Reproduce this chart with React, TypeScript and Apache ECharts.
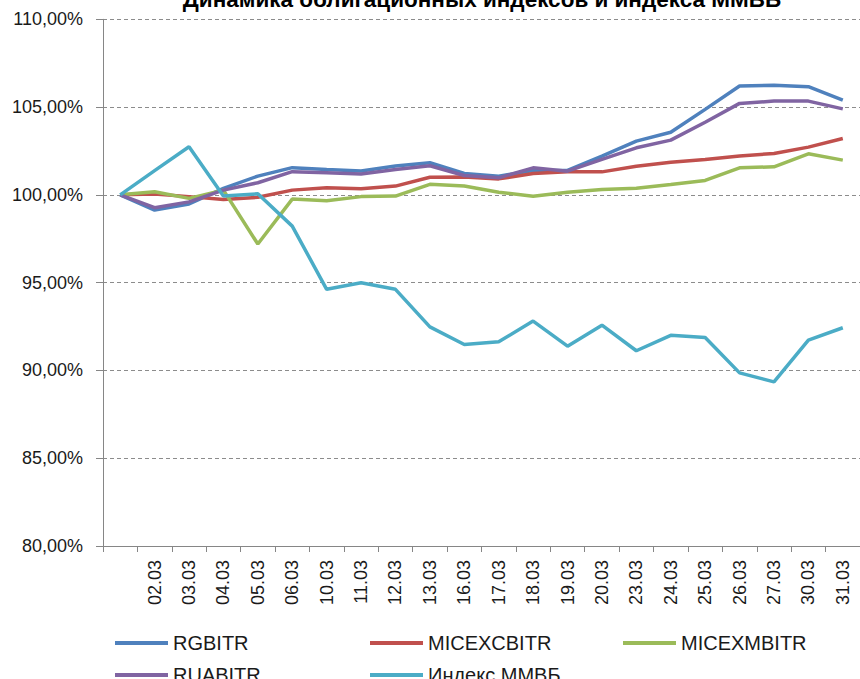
import React, { useEffect, useRef } from "react";
import * as echarts from "echarts";

const categories = ["", "02.03", "03.03", "04.03", "05.03", "06.03", "10.03", "11.03", "12.03", "13.03", "16.03", "17.03", "18.03", "19.03", "20.03", "23.03", "24.03", "25.03", "26.03", "27.03", "30.03", "31.03"];

const rgbitr = [100, 99.13, 99.48, 100.37, 101.07, 101.55, 101.45, 101.36, 101.64, 101.83, 101.22, 101.06, 101.39, 101.39, 102.21, 103.06, 103.57, 104.87, 106.2, 106.25, 106.16, 105.4];
const micexcbitr = [100, 100.05, 99.9, 99.74, 99.86, 100.27, 100.4, 100.35, 100.5, 101.0, 101.02, 100.91, 101.22, 101.31, 101.31, 101.63, 101.86, 102.02, 102.21, 102.36, 102.72, 103.21];
const micexmbitr = [100, 100.18, 99.8, 100.27, 97.2, 99.76, 99.67, 99.9, 99.93, 100.6, 100.5, 100.15, 99.92, 100.15, 100.3, 100.38, 100.59, 100.82, 101.54, 101.6, 102.34, 101.98];
const ruabitr = [100, 99.27, 99.6, 100.27, 100.69, 101.32, 101.26, 101.19, 101.45, 101.66, 101.1, 100.97, 101.54, 101.35, 102.02, 102.68, 103.12, 104.14, 105.21, 105.34, 105.34, 104.9];
const mmvb = [100, 101.38, 102.74, 99.94, 100.06, 98.22, 94.62, 94.99, 94.62, 92.48, 91.48, 91.63, 92.81, 91.38, 92.58, 91.12, 92.0, 91.88, 89.86, 89.35, 91.73, 92.43];

const seriesNames = ["RGBITR", "MICEXCBITR", "MICEXMBITR", "RUABITR", "Индекс ММВБ"];
const seriesColors = ["#4F81BD", "#C0504D", "#9BBB59", "#8064A2", "#4BACC6"];
const seriesData = [rgbitr, micexcbitr, micexmbitr, ruabitr, mmvb];

const title = "Динамика облигационных индексов и индекса ММВБ";
const FONT = "Liberation Sans";

export default function App() {
  const ref = useRef<HTMLDivElement>(null);
  useEffect(() => {
    if (!ref.current) return;
    const chart = echarts.init(ref.current, null, { renderer: "svg" });
    const legendPos = [
      { left: 110, top: 628 },
      { left: 365, top: 628 },
      { left: 618, top: 628 },
      { left: 110, top: 660 },
      { left: 365, top: 660 },
    ];
    chart.setOption({
      animation: false,
      backgroundColor: "#ffffff",
      graphic: [
        {
          type: "text",
          x: 482,
          y: -1,
          style: {
            text: title,
            fill: "#000",
            font: `bold 22.5px "${FONT}"`,
            textAlign: "center",
            textVerticalAlign: "middle",
          },
        },
      ],
      legend: seriesNames.map((n, i) => ({
        data: [n],
        left: legendPos[i].left,
        top: legendPos[i].top,
        icon: "rect",
        itemWidth: 53,
        itemHeight: 4,
        textStyle: { fontFamily: FONT, fontSize: 20, color: "#1a1a1a" },
        selectedMode: false,
      })),
      grid: { left: 103, top: 19.3, width: 759, height: 526.7, containLabel: false },
      xAxis: {
        type: "category",
        data: categories,
        boundaryGap: true,
        axisLine: { lineStyle: { color: "#868686", width: 1 } },
        axisTick: { show: true, alignWithLabel: false, length: 6, lineStyle: { color: "#868686" }, interval: 0 },
        axisLabel: {
          interval: 0,
          rotate: 90,
          margin: 14,
          fontFamily: FONT,
          fontSize: 18,
          color: "#1a1a1a",
        },
        splitLine: { show: false },
      },
      yAxis: {
        type: "value",
        min: 80,
        max: 110,
        interval: 5,
        axisLine: { show: true, lineStyle: { color: "#868686", width: 1 } },
        axisTick: { show: true, length: 7, lineStyle: { color: "#868686" } },
        axisLabel: {
          margin: 20,
          fontFamily: FONT,
          fontSize: 18,
          color: "#1a1a1a",
          formatter: (v: number) => v.toFixed(2).replace(".", ",") + "%",
        },
        splitLine: { show: true, lineStyle: { color: "#8c8c8c", type: [4, 3], width: 1 } },
      },
      series: seriesNames.map((n, i) => ({
        name: n,
        type: "line",
        data: seriesData[i],
        symbol: "none",
        smooth: false,
        lineStyle: { color: seriesColors[i], width: 3.5 },
        itemStyle: { color: seriesColors[i] },
      })),
    });
    return () => chart.dispose();
  }, []);
  return (
    <div
      ref={ref}
      style={{ position: "fixed", left: 0, top: 0, width: 860, height: 679, background: "#fff" }}
    />
  );
}
